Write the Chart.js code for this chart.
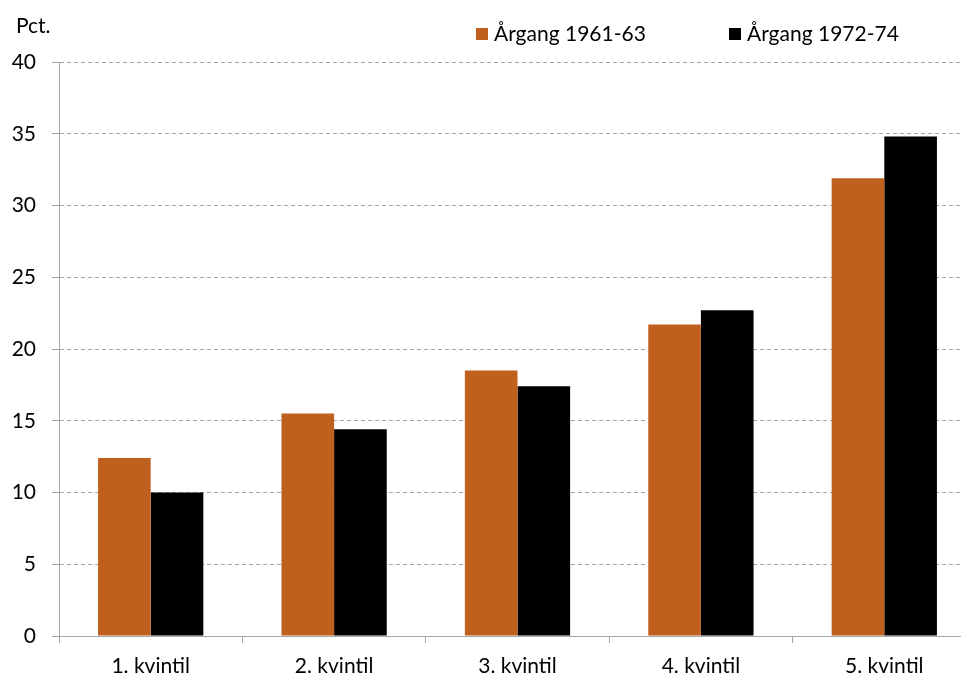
<!DOCTYPE html>
<html>
<head>
<meta charset="utf-8">
<script src="https://cdn.jsdelivr.net/npm/chart.js@4"></script>
<style>
  html, body { margin: 0; padding: 0; background: #fff; overflow: hidden; }
  #wrap { width: 961px; height: 678px; overflow: hidden; }
</style>
</head>
<body>
<div id="wrap"><canvas id="myChart" width="976" height="678"></canvas></div>
<script>
const categories = ['1. kvintil', '2. kvintil', '3. kvintil', '4. kvintil', '5. kvintil'];
const aargang1961 = [12.4, 15.5, 18.5, 21.7, 31.9];
const aargang1972 = [10.0, 14.4, 17.4, 22.7, 34.8];
const yTicks = [0, 5, 10, 15, 20, 25, 30, 35, 40];

const FONT = 'Lato, "Open Sans", sans-serif';
const gridGray = '#a6a6a6';

// legend and "Pct." label drawn by hand so they sit where the original has them
const extraText = {
  id: 'extraText',
  afterDraw(chart) {
    const ctx = chart.ctx;
    ctx.save();
    ctx.font = '21px ' + FONT;
    ctx.fillStyle = '#000';
    ctx.textBaseline = 'middle';
    ctx.textAlign = 'left';
    ctx.fillText('Pct.', 16, 26);
    let x = 476;
    chart.data.datasets.forEach((ds, i) => {
      ctx.fillStyle = ds.backgroundColor;
      ctx.fillRect(x, 28, 12, 12);
      ctx.fillStyle = '#000';
      ctx.fillText(ds.label, x + 18, 34);
      x = 729;
    });
    ctx.restore();
  }
};

new Chart(document.getElementById('myChart').getContext('2d'), {
  type: 'bar',
  data: {
    labels: categories,
    datasets: [
      { label: 'Årgang 1961-63', data: aargang1961, backgroundColor: '#C0601E' },
      { label: 'Årgang 1972-74', data: aargang1972, backgroundColor: '#000000' }
    ]
  },
  options: {
    responsive: false,
    animation: false,
    layout: { padding: { top: 62, left: 0, right: 0, bottom: 0 } },
    datasets: { bar: { categoryPercentage: 0.574, barPercentage: 1.0 } },
    plugins: { legend: { display: false }, tooltip: { enabled: false } },
    scales: {
      x: {
        grid: { drawOnChartArea: false, drawTicks: true, tickLength: 7, color: gridGray, offset: true },
        border: { color: gridGray, width: 1 },
        ticks: { color: '#000', font: { family: FONT, size: 21 }, padding: 11 },
        afterFit(scale) { scale.height = 42; }
      },
      y: {
        min: 0,
        max: 40,
        afterBuildTicks(scale) { scale.ticks = yTicks.map(v => ({ value: v })); },
        grid: { color: gridGray, tickLength: 7, tickBorderDash: [], tickColor: gridGray },
        border: { color: gridGray, width: 1, dash: [4, 3] },
        ticks: { color: '#000', font: { family: FONT, size: 21 }, padding: 16 },
        afterFit(scale) { scale.width = 59; }
      }
    }
  },
  plugins: [extraText]
});
</script>
</body>
</html>
